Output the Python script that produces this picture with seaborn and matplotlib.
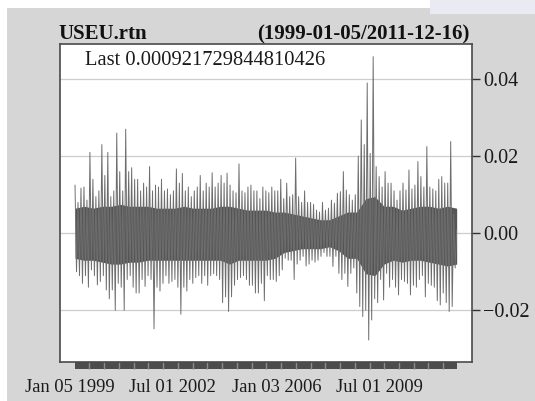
import numpy as np
import pandas as pd
import matplotlib
matplotlib.use("Agg")
import matplotlib.pyplot as plt
from matplotlib.transforms import ScaledTranslation
from matplotlib.patches import Rectangle
import seaborn as sns

series_name = "USEU.rtn"
start_date = "1999-01-05"
end_date = "2011-12-16"
last_label = "0.000921729844810426"
last_value = float(last_label)

# Upper and lower extremes of the daily return within consecutive
# short stretches of the sample, in units of 1e-3
seg_high = [
    12.5, 8.0, 11.7, 12.0, 8.6, 21.0, 14.0, 9.5, 11.0, 23.0,
    15.0, 21.0, 9.5, 11.0, 26.0, 16.0, 11.0, 27.0, 16.0, 17.0,
    14.0, 14.0, 11.0, 13.0, 12.0, 17.3, 11.0, 12.5, 12.0, 14.0,
    11.0, 11.5, 10.0, 11.0, 16.7, 13.0, 15.5, 11.0, 12.0, 9.5,
    11.0, 12.0, 15.0, 11.0, 13.0, 12.0, 15.7, 12.0, 13.0, 15.0,
    13.0, 15.6, 12.5, 11.0, 10.5, 18.0, 11.0, 10.5, 12.0, 12.5,
    11.0, 11.0, 9.0, 12.0, 11.0, 10.5, 12.0, 11.0, 11.0, 14.0,
    9.0, 13.0, 9.5, 10.0, 19.5, 9.5, 8.0, 11.0, 8.0, 8.0,
    7.5, 6.0, 5.5, 8.0, 6.0, 6.5, 8.6, 7.8, 10.4, 10.8,
    16.0, 11.2, 10.0, 8.6, 10.0, 20.0, 29.4, 23.0, 39.0, 20.7,
    45.8, 17.3, 14.7, 12.0, 16.0, 13.0, 13.0, 11.0, 8.6, 11.0,
    13.0, 11.2, 16.4, 11.5, 12.5, 18.6, 14.7, 12.0, 22.5, 12.0,
    11.5, 11.0, 14.0, 14.7, 13.0, 13.0, 23.8, 5.0,
]
seg_low = [
    -10.0, -11.0, -13.0, -11.0, -14.0, -9.5, -11.0, -13.4, -12.5, -11.0,
    -14.7, -17.0, -14.7, -20.0, -13.0, -14.0, -20.0, -12.0, -11.0, -14.0,
    -15.5, -15.5, -12.0, -13.8, -11.0, -12.0, -24.8, -14.0, -15.0, -13.0,
    -11.0, -13.0, -12.5, -12.0, -14.0, -21.0, -14.0, -15.0, -12.0, -13.0,
    -11.5, -11.0, -13.0, -11.0, -13.5, -11.0, -10.5, -11.0, -12.0, -18.0,
    -16.5, -20.3, -16.5, -13.5, -12.0, -11.5, -11.0, -12.0, -13.5, -13.5,
    -15.5, -15.5, -13.0, -17.5, -11.0, -12.0, -12.0, -12.5, -11.0, -9.5,
    -6.5, -7.0, -7.0, -12.0, -8.0, -7.0, -6.0, -8.5, -8.0, -7.0,
    -7.5, -7.0, -6.0, -5.0, -6.0, -6.0, -8.6, -6.0, -10.4, -12.0,
    -10.4, -13.8, -10.4, -9.0, -15.5, -19.0, -21.6, -20.0, -27.7, -22.5,
    -17.0, -18.0, -12.0, -17.3, -10.4, -14.0, -12.0, -14.0, -16.0, -12.0,
    -12.5, -13.0, -16.0, -13.5, -14.0, -12.0, -11.0, -16.5, -13.0, -13.5,
    -14.0, -17.5, -18.6, -15.5, -18.0, -20.3, -19.0, -9.0,
]

# Range covered by the bulk of the daily returns (dense body), 1e-3 units
body_high = [
    6.5, 7.0, 6.5, 7.0, 7.0, 7.5, 7.0, 7.0, 7.0, 6.5,
    6.5, 6.5, 7.0, 6.5, 6.5, 6.5, 7.0, 7.0, 6.5, 6.0,
    6.0, 6.0, 5.5, 5.5, 5.0, 4.5, 4.0, 3.5, 3.5, 4.5,
    5.5, 5.5, 9.0, 9.5, 7.0, 7.0, 6.0, 6.5, 7.0, 7.0,
    6.5, 7.0, 6.5,
]
body_low = [
    -6.5, -7.0, -7.0, -7.5, -8.0, -8.0, -7.5, -7.5, -7.0, -7.0,
    -7.0, -7.0, -7.0, -7.0, -7.0, -7.0, -7.0, -8.0, -7.0, -7.0,
    -7.0, -7.0, -6.5, -5.0, -4.5, -4.0, -4.0, -4.0, -3.5, -4.5,
    -6.5, -6.5, -10.5, -11.0, -8.0, -7.0, -7.5, -7.0, -7.0, -7.5,
    -8.0, -8.5, -8.0,
]

y_ticks = [-0.02, 0.0, 0.02, 0.04]
y_tick_labels = ["\u22120.02", "0.00", "0.02", "0.04"]
x_tick_dates = ["1999-01-05", "2002-07-01", "2006-01-03", "2009-07-01"]
x_tick_labels = ["Jan 05 1999", "Jul 01 2002", "Jan 03 2006", "Jul 01 2009"]

# Build the return path: alternate the highs and lows, then the last close
values = []
for hi, lo in zip(seg_high, seg_low):
    values.extend([hi * 1e-3, lo * 1e-3])
values.append(last_value)
dates = pd.date_range(start_date, end_date, periods=len(values))
df = pd.DataFrame({"date": dates, "rtn": values})

body = pd.DataFrame({
    "date": pd.date_range(start_date, end_date, periods=len(body_high)),
    "hi": np.array(body_high) * 1e-3,
    "lo": np.array(body_low) * 1e-3,
})

sns.set_theme(style="white")
plt.rcParams["font.family"] = ["Liberation Serif", "DejaVu Serif"]

W, H = 535, 401
fig = plt.figure(figsize=(W / 100, H / 100), dpi=100)
fig.patch.set_facecolor("white")

# grey page behind the chart
fig.add_artist(Rectangle((7 / W, 0), 1, 1 - 8 / H, transform=fig.transFigure,
                         facecolor="#d6d6d6", edgecolor="none", zorder=-10))
fig.add_artist(Rectangle((430 / W, 1 - 14 / H), 1, 14 / H, transform=fig.transFigure,
                         facecolor="#e9ebf2", edgecolor="none", zorder=-9))

ax = fig.add_axes([60 / W, 1 - 362 / H, 412 / W, 318 / H])
ax.set_facecolor("white")

for yv in y_ticks:
    ax.axhline(yv, color="#cdcdcd", lw=0.9, zorder=0)

ax.fill_between(body["date"], body["lo"], body["hi"], color="#555555",
                lw=0, zorder=1.5)
sns.lineplot(data=df, x="date", y="rtn", ax=ax, color="#6e6e6e", lw=0.7,
             estimator=None, sort=False, zorder=2)

t0, t1 = pd.Timestamp(start_date), pd.Timestamp(end_date)
ax.set_xlim(t0 - pd.Timedelta(days=186), t1 + pd.Timedelta(days=190))
ax.set_ylim(-0.0334, 0.0491)

# right-hand value axis
ax.yaxis.tick_right()
ax.set_yticks(y_ticks)
ax.set_yticklabels(y_tick_labels)
ax.tick_params(axis="y", right=True, left=False, direction="out", length=6,
               width=1.0, color="#333333", pad=2, labelsize=14.5,
               labelcolor="#1a1a1a")

# date axis labels
ax.set_xticks(pd.to_datetime(x_tick_dates))
ax.set_xticklabels(x_tick_labels)
ax.tick_params(axis="x", bottom=True, length=0, pad=12, labelsize=13.3,
               labelcolor="#1a1a1a")
for lab in ax.get_xticklabels():
    lab.set_transform(lab.get_transform()
                      + ScaledTranslation(-5 / 100, 0, fig.dpi_scale_trans))

ax.set_xlabel("")
ax.set_ylabel("")

for sp in ax.spines.values():
    sp.set_visible(True)
    sp.set_color("#4a4a4a")
    sp.set_linewidth(1.2)

# half-year marker strip under the panel
strip_h = 7.3 / 318
ax.axvspan(t0, t1, ymin=-strip_h, ymax=0, facecolor="#4c4c4c",
           edgecolor="none", clip_on=False, zorder=1)
marks = pd.date_range("1999-07-01", "2011-12-31", freq="6MS")
ax.vlines(marks, -strip_h, 0, transform=ax.get_xaxis_transform(),
          colors="#8c8c8c", lw=1.0, clip_on=False, zorder=1.5)

ax.text(25 / 412, (362 - 65) / 318, f"Last {last_label}", transform=ax.transAxes,
        fontsize=14.8, color="#1a1a1a", va="baseline", ha="left")

fig.text(58 / W, 1 - 39 / H, series_name, fontsize=15, fontweight="bold",
         color="#111111", va="baseline", ha="left")
fig.text(470 / W, 1 - 39 / H, f"({start_date}/{end_date})", fontsize=15,
         fontweight="bold", color="#111111", va="baseline", ha="right")

fig.savefig("out.png", dpi=100)
